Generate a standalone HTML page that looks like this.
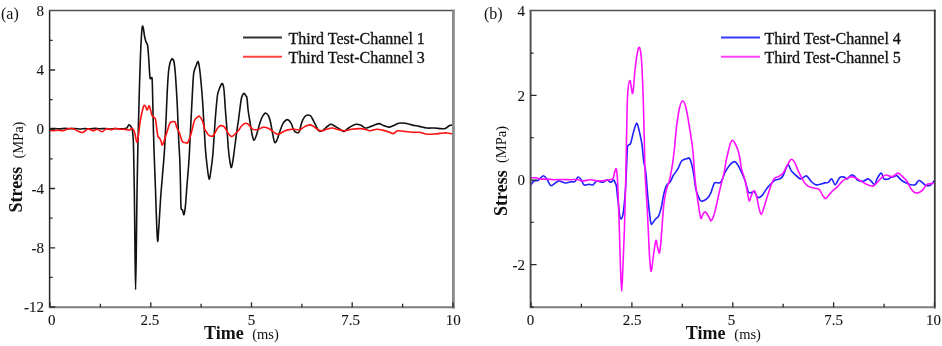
<!DOCTYPE html>
<html><head><meta charset="utf-8"><style>
html,body{margin:0;padding:0;background:#fff;width:942px;height:346px;overflow:hidden}
svg{display:block;filter:blur(0.35px)}
</style></head><body>
<svg width="942" height="346" viewBox="0 0 942 346"><rect width="942" height="346" fill="#fff"/><clipPath id="cl"><rect x="50.0" y="10.8" width="403.0" height="296.2"/></clipPath><clipPath id="cr"><rect x="531.0" y="10.8" width="403.5" height="296.2"/></clipPath><g clip-path="url(#cl)" fill="none" stroke-width="1.6" stroke-linejoin="round" stroke-linecap="round"><path d="M50.0,128.7 C50.8,128.7 53.3,128.5 55.0,128.5 C56.7,128.5 58.3,128.9 60.0,128.9 C61.7,128.9 63.3,128.4 65.0,128.4 C66.7,128.4 68.3,128.8 70.0,128.8 C71.7,128.8 73.3,128.5 75.0,128.5 C76.7,128.5 78.3,129.0 80.0,129.0 C81.7,129.0 83.3,128.6 85.0,128.6 C86.7,128.6 88.3,128.9 90.0,128.9 C91.7,128.9 93.3,128.4 95.0,128.4 C96.7,128.4 98.3,128.8 100.0,128.8 C101.7,128.8 103.3,128.5 105.0,128.5 C106.7,128.5 108.3,129.0 110.0,129.0 C111.7,129.0 113.3,128.6 115.0,128.6 C116.7,128.6 118.3,128.8 120.0,128.8 C121.7,128.8 123.8,128.8 125.0,128.6 C126.2,128.4 126.3,128.4 127.0,127.8 C127.7,127.2 128.4,124.9 129.0,124.7 C129.6,124.5 130.2,125.5 130.8,126.5 C131.4,127.5 132.0,127.4 132.4,130.5 C132.8,133.6 133.2,135.1 133.5,145.0 C133.8,154.9 134.1,172.5 134.3,190.0 C134.6,207.5 134.8,233.4 135.0,250.0 C135.2,266.6 135.4,289.6 135.6,289.6 C135.8,289.6 136.1,264.9 136.3,250.0 C136.5,235.1 136.7,216.7 136.9,200.0 C137.2,183.3 137.5,164.2 137.8,150.0 C138.1,135.8 138.4,125.8 138.7,115.0 C139.0,104.2 139.2,95.0 139.5,85.0 C139.8,75.0 140.2,63.3 140.5,55.0 C140.8,46.7 141.2,39.8 141.5,35.0 C141.8,30.2 142.1,27.3 142.4,26.3 C142.7,25.3 143.2,27.4 143.5,29.0 C143.8,30.6 144.1,33.8 144.5,36.0 C144.9,38.2 145.5,40.5 146.0,42.0 C146.5,43.5 147.1,42.8 147.5,45.0 C147.9,47.2 148.1,49.7 148.5,55.0 C148.9,60.3 149.5,73.0 149.9,76.8 C150.3,80.6 150.6,77.7 151.0,78.0 C151.4,78.3 151.8,76.5 152.1,78.5 C152.3,80.5 152.3,83.1 152.5,90.0 C152.7,96.9 152.9,110.0 153.2,120.0 C153.4,130.0 153.6,138.3 154.0,150.0 C154.4,161.7 155.1,177.5 155.5,190.0 C155.9,202.5 156.3,216.4 156.7,225.0 C157.1,233.6 157.3,240.8 157.7,241.3 C158.0,241.8 158.3,234.9 158.8,228.0 C159.3,221.1 159.9,208.8 160.5,200.0 C161.1,191.2 161.8,183.3 162.5,175.0 C163.2,166.7 163.9,159.2 164.5,150.0 C165.1,140.8 165.5,130.0 166.0,120.0 C166.5,110.0 166.9,98.0 167.3,90.0 C167.7,82.0 168.1,76.5 168.5,72.0 C168.9,67.5 169.5,65.1 170.0,63.0 C170.5,60.9 171.1,60.2 171.5,59.5 C171.9,58.8 172.3,58.6 172.7,59.0 C173.1,59.4 173.6,59.8 174.0,62.0 C174.4,64.2 174.8,67.7 175.2,72.0 C175.6,76.3 175.9,81.7 176.3,88.0 C176.7,94.3 177.1,101.3 177.5,110.0 C177.9,118.7 178.3,131.7 178.7,140.0 C179.1,148.3 179.5,152.5 179.8,160.0 C180.1,167.5 180.3,177.2 180.5,185.0 C180.7,192.8 180.7,202.8 181.0,207.0 C181.3,211.2 182.0,208.7 182.5,210.0 C183.0,211.3 183.5,215.4 184.0,214.6 C184.5,213.8 185.0,209.9 185.5,205.0 C186.0,200.1 186.4,192.5 187.0,185.0 C187.6,177.5 188.4,169.2 189.0,160.0 C189.6,150.8 189.9,140.8 190.5,130.0 C191.1,119.2 191.8,104.2 192.3,95.0 C192.8,85.8 193.1,79.2 193.5,75.0 C193.9,70.8 194.1,71.5 194.5,70.0 C194.9,68.5 195.4,67.4 196.0,66.0 C196.6,64.6 197.5,61.2 198.1,61.5 C198.7,61.8 199.0,64.6 199.5,68.0 C200.0,71.4 200.5,76.7 201.0,82.0 C201.5,87.3 202.0,92.8 202.5,100.0 C203.0,107.2 203.5,116.7 204.0,125.0 C204.5,133.3 205.0,143.3 205.5,150.0 C206.0,156.7 206.4,160.2 207.0,165.0 C207.6,169.8 208.4,178.2 209.1,179.0 C209.8,179.8 210.4,174.0 211.0,170.0 C211.6,166.0 212.2,161.7 212.8,155.0 C213.4,148.3 214.0,137.5 214.5,130.0 C215.0,122.5 215.5,115.8 216.0,110.0 C216.5,104.2 217.0,98.3 217.5,95.0 C218.0,91.7 218.4,91.5 218.9,90.0 C219.4,88.5 219.9,87.1 220.5,86.0 C221.1,84.9 221.9,82.9 222.5,83.6 C223.1,84.3 223.5,85.6 224.0,90.0 C224.5,94.4 224.9,103.3 225.4,110.0 C225.9,116.7 226.5,123.3 227.0,130.0 C227.5,136.7 228.0,144.7 228.5,150.0 C229.0,155.3 229.5,159.1 230.0,162.0 C230.5,164.9 230.9,167.8 231.4,167.5 C231.9,167.2 232.4,163.8 233.0,160.0 C233.6,156.2 234.3,150.0 235.0,145.0 C235.7,140.0 236.4,134.2 237.0,130.0 C237.6,125.8 238.0,123.7 238.5,120.0 C239.0,116.3 239.5,111.7 240.0,108.0 C240.5,104.3 240.9,100.4 241.5,98.0 C242.1,95.6 243.1,93.7 243.8,93.4 C244.6,93.1 245.5,95.2 246.0,96.0 C246.5,96.8 246.7,95.7 247.0,98.0 C247.3,100.3 247.6,106.0 248.1,110.0 C248.6,114.0 249.3,118.0 250.0,122.0 C250.7,126.0 251.3,130.9 252.0,134.0 C252.7,137.1 253.2,140.1 254.0,140.3 C254.8,140.5 255.7,137.4 256.5,135.0 C257.3,132.6 258.2,128.8 259.0,126.0 C259.8,123.2 260.7,120.5 261.5,118.5 C262.3,116.5 263.2,115.1 264.0,114.2 C264.8,113.3 265.3,113.0 266.0,113.2 C266.7,113.4 267.6,114.0 268.3,115.5 C269.1,117.0 269.8,119.1 270.5,122.0 C271.2,124.9 271.8,129.6 272.5,133.0 C273.2,136.4 273.9,141.0 274.6,142.2 C275.4,143.4 276.1,141.9 277.0,140.0 C277.9,138.1 279.0,133.8 280.0,131.0 C281.0,128.2 282.1,125.2 283.0,123.5 C283.9,121.8 284.7,121.1 285.5,120.5 C286.3,119.9 287.1,119.3 288.0,119.8 C288.9,120.2 290.2,121.8 291.0,123.2 C291.8,124.6 292.3,126.5 293.0,128.0 C293.7,129.4 294.2,131.2 295.2,131.9 C296.2,132.6 298.1,133.1 299.1,131.9 C300.1,130.8 300.4,127.0 301.0,125.0 C301.6,123.0 302.0,121.5 302.8,119.9 C303.6,118.3 304.7,116.3 306.0,115.6 C307.3,114.9 309.3,115.0 310.4,115.6 C311.5,116.2 311.8,117.7 312.5,119.0 C313.2,120.3 313.9,121.7 314.7,123.2 C315.4,124.7 316.3,126.7 317.0,128.0 C317.7,129.3 318.1,130.3 319.0,130.8 C319.9,131.3 321.2,131.3 322.3,130.8 C323.4,130.3 324.6,128.8 325.5,128.0 C326.4,127.2 327.1,126.6 328.0,126.0 C328.9,125.4 329.6,124.1 331.0,124.3 C332.4,124.5 334.8,126.2 336.4,127.1 C338.0,128.0 339.4,129.0 340.7,129.7 C342.0,130.4 342.6,131.8 344.0,131.4 C345.4,131.0 347.4,128.7 349.4,127.5 C351.4,126.3 353.9,124.6 355.9,124.3 C357.9,124.0 359.8,124.8 361.3,125.4 C362.8,126.0 363.7,127.7 365.0,128.0 C366.3,128.3 367.9,127.5 369.3,127.1 C370.8,126.7 372.1,126.0 373.7,125.4 C375.3,124.8 377.5,123.6 379.1,123.6 C380.7,123.6 381.8,124.8 383.4,125.4 C385.0,126.0 387.3,127.0 388.9,127.1 C390.5,127.2 391.6,126.4 393.2,125.8 C394.8,125.2 396.6,123.6 398.6,123.2 C400.6,122.8 402.9,122.9 405.1,123.2 C407.3,123.5 409.2,124.4 411.6,124.9 C414.0,125.4 416.7,125.9 419.2,126.4 C421.7,126.9 424.3,127.7 426.8,128.0 C429.3,128.3 432.0,127.9 434.4,128.0 C436.8,128.1 439.1,128.5 440.9,128.6 C442.7,128.7 443.8,129.1 445.2,128.6 C446.6,128.1 448.3,126.0 449.6,125.4 C450.9,124.8 452.4,125.0 453.0,124.9" stroke="#111"/><path d="M50.0,130.5 C50.5,130.5 51.7,130.7 53.0,130.7 C54.3,130.7 56.3,130.3 58.0,130.3 C59.7,130.3 61.3,131.0 63.2,130.7 C65.1,130.4 67.6,128.8 69.3,128.5 C71.0,128.2 71.8,128.2 73.3,128.7 C74.8,129.2 76.9,130.7 78.4,131.3 C79.9,131.9 81.2,132.6 82.4,132.5 C83.6,132.4 84.4,131.3 85.4,130.7 C86.4,130.1 87.2,128.9 88.5,128.9 C89.8,128.9 91.7,130.6 93.1,130.7 C94.5,130.8 95.6,129.0 97.1,129.2 C98.6,129.4 100.7,131.9 102.2,131.8 C103.7,131.7 104.8,129.0 106.3,128.7 C107.8,128.3 109.8,129.7 111.3,129.7 C112.8,129.7 113.9,128.6 115.4,128.5 C116.9,128.4 118.7,129.0 120.4,129.2 C122.1,129.3 124.0,129.2 125.5,129.4 C127.0,129.6 128.5,130.4 129.5,130.2 C130.5,130.0 130.9,128.2 131.6,128.2 C132.3,128.2 133.0,129.0 133.6,130.0 C134.2,131.0 134.4,132.2 135.0,134.3 C135.6,136.4 136.3,142.4 136.9,142.5 C137.5,142.6 138.0,138.2 138.5,135.0 C139.0,131.8 139.4,126.6 139.9,123.1 C140.4,119.6 141.0,116.8 141.6,114.0 C142.2,111.2 143.0,108.0 143.5,106.5 C144.0,105.0 144.2,105.3 144.5,105.3 C144.8,105.3 145.2,105.7 145.6,106.5 C146.0,107.3 146.6,110.4 147.2,110.3 C147.8,110.2 148.4,106.0 148.9,105.8 C149.4,105.6 149.8,107.4 150.3,109.0 C150.8,110.6 151.4,114.1 152.0,115.5 C152.6,116.9 153.2,116.6 153.8,117.2 C154.4,117.8 154.9,117.2 155.4,119.0 C155.9,120.8 156.3,125.2 156.7,128.0 C157.1,130.8 157.4,134.3 157.8,136.0 C158.2,137.7 158.9,137.2 159.4,138.0 C159.9,138.8 160.5,139.8 161.0,141.0 C161.5,142.2 161.7,146.0 162.5,145.0 C163.3,144.0 164.8,138.5 166.0,135.0 C167.2,131.5 168.6,126.2 169.5,124.0 C170.4,121.8 170.6,122.3 171.5,122.0 C172.4,121.7 174.0,120.9 174.9,121.9 C175.8,122.9 176.2,126.1 177.0,128.0 C177.8,129.9 178.6,130.9 179.5,133.2 C180.4,135.4 181.4,139.9 182.3,141.5 C183.2,143.1 184.3,142.3 185.2,142.6 C186.0,142.8 186.7,143.5 187.4,143.0 C188.1,142.5 188.6,141.0 189.2,139.5 C189.8,138.0 190.1,137.1 191.0,134.0 C191.9,130.9 193.4,123.5 194.4,120.8 C195.4,118.0 196.2,118.2 197.0,117.5 C197.8,116.8 198.6,115.7 199.5,116.3 C200.4,116.9 201.6,118.8 202.5,121.0 C203.4,123.2 204.2,127.7 204.8,129.5 C205.4,131.3 205.8,130.8 206.3,131.6 C206.8,132.4 207.3,133.8 208.0,134.5 C208.7,135.2 209.3,135.8 210.2,136.0 C211.1,136.2 212.3,136.7 213.4,135.6 C214.5,134.5 215.8,131.0 216.7,129.5 C217.6,128.0 218.3,127.2 219.0,126.5 C219.7,125.8 220.1,125.5 221.0,125.6 C221.9,125.7 223.0,125.5 224.3,126.9 C225.6,128.3 227.3,132.3 228.6,133.9 C229.9,135.5 230.8,136.5 231.9,136.5 C233.0,136.5 233.9,135.0 235.0,134.0 C236.1,133.0 237.3,131.9 238.4,130.6 C239.5,129.3 240.4,127.2 241.5,126.0 C242.6,124.8 243.8,123.7 244.9,123.4 C246.0,123.1 246.8,123.1 248.1,124.1 C249.4,125.0 250.9,128.2 252.5,129.1 C254.1,130.0 256.1,129.8 257.9,129.5 C259.7,129.2 261.5,127.5 263.3,127.3 C265.1,127.1 267.1,127.7 268.7,128.4 C270.3,129.1 271.7,130.7 273.1,131.7 C274.6,132.7 276.0,134.2 277.4,134.3 C278.8,134.5 280.4,133.2 281.7,132.6 C283.0,132.0 283.8,131.3 285.0,130.8 C286.2,130.3 287.7,129.8 289.0,129.6 C290.3,129.3 291.2,129.3 293.0,129.3 C294.8,129.3 297.7,130.1 299.5,129.7 C301.3,129.3 302.6,127.8 303.9,127.1 C305.1,126.4 305.9,125.9 307.0,125.5 C308.1,125.1 309.3,124.8 310.4,124.9 C311.5,125.1 312.3,125.6 313.6,126.4 C314.9,127.2 316.6,129.0 318.0,129.7 C319.4,130.4 320.9,130.9 322.3,130.8 C323.7,130.7 325.0,129.8 326.6,129.3 C328.2,128.8 330.0,127.9 332.0,128.0 C334.0,128.1 336.4,129.2 338.6,129.7 C340.8,130.2 342.8,130.9 345.0,130.8 C347.2,130.7 349.1,129.7 351.6,129.3 C354.1,128.9 357.7,128.5 360.2,128.6 C362.7,128.7 365.1,129.4 366.8,129.8 C368.5,130.2 368.7,130.9 370.4,130.8 C372.1,130.7 374.9,129.4 376.9,129.3 C378.9,129.2 380.4,129.7 382.4,130.1 C384.4,130.5 387.1,131.3 388.9,131.9 C390.7,132.5 391.8,133.8 393.2,133.6 C394.6,133.4 395.7,131.2 397.5,130.8 C399.3,130.4 401.5,131.2 404.0,131.4 C406.5,131.7 410.2,132.2 412.7,132.3 C415.2,132.5 417.0,132.0 419.2,132.3 C421.4,132.6 423.2,133.7 425.7,134.0 C428.2,134.3 431.5,134.2 434.4,134.0 C437.3,133.8 440.9,133.2 443.1,133.0 C445.3,132.8 445.8,132.8 447.4,133.0 C449.0,133.2 452.1,133.8 453.0,134.0" stroke="#ff1010"/></g><g clip-path="url(#cr)" fill="none" stroke-width="1.6" stroke-linejoin="round" stroke-linecap="round"><path d="M531.0,184.9 C531.5,184.2 532.8,181.8 533.9,181.0 C535.0,180.2 536.7,180.9 537.8,180.4 C538.9,179.9 539.4,179.0 540.4,178.2 C541.4,177.4 542.5,175.7 543.6,175.8 C544.7,176.0 545.7,177.5 546.9,179.1 C548.1,180.7 549.4,184.9 550.8,185.6 C552.2,186.2 553.9,183.8 555.3,183.0 C556.7,182.2 557.5,181.0 559.2,181.0 C560.9,181.0 563.8,182.9 565.7,183.0 C567.7,183.1 569.4,181.9 570.9,181.7 C572.4,181.5 573.6,182.5 574.8,181.7 C576.0,180.9 577.0,177.4 578.1,177.1 C579.2,176.8 580.3,178.4 581.3,179.7 C582.3,181.0 582.6,184.1 583.9,184.9 C585.2,185.7 587.6,184.3 589.1,184.3 C590.6,184.3 591.7,185.5 593.0,184.9 C594.3,184.3 595.4,181.4 596.9,181.0 C598.4,180.6 600.8,182.3 602.1,182.3 C603.5,182.3 604.1,181.5 605.0,181.1 C605.9,180.7 606.4,179.5 607.3,179.7 C608.2,179.9 609.5,182.2 610.6,182.3 C611.7,182.4 613.1,180.1 613.8,180.1 C614.5,180.1 614.6,181.4 615.0,182.4 C615.4,183.4 616.0,184.1 616.4,186.2 C616.8,188.2 616.9,191.6 617.3,194.7 C617.6,197.8 618.0,201.1 618.5,205.0 C619.0,208.9 619.5,216.2 620.2,218.0 C620.9,219.8 622.0,218.7 622.7,215.6 C623.5,212.5 624.2,205.1 624.7,199.6 C625.2,194.1 625.6,188.2 625.9,182.4 C626.2,176.6 626.4,170.7 626.6,165.0 C626.9,159.3 627.1,151.3 627.4,148.0 C627.7,144.7 628.0,145.9 628.5,145.1 C629.0,144.3 629.9,145.2 630.6,143.4 C631.4,141.6 632.2,136.9 633.0,134.0 C633.8,131.1 634.6,127.8 635.3,126.0 C636.0,124.2 636.4,122.8 637.0,123.5 C637.6,124.2 638.2,126.5 639.0,130.0 C639.8,133.4 641.1,138.9 641.9,144.2 C642.7,149.5 643.2,157.7 643.8,162.0 C644.4,166.3 645.1,167.2 645.5,170.0 C645.9,172.8 646.0,174.0 646.4,178.9 C646.8,183.8 647.4,192.5 648.1,199.7 C648.8,206.9 650.0,218.3 650.7,222.2 C651.4,226.1 651.8,223.5 652.5,223.1 C653.2,222.7 654.1,220.8 655.1,219.6 C656.1,218.4 657.5,218.1 658.5,216.2 C659.5,214.3 660.2,212.0 661.1,208.4 C662.0,204.8 662.8,198.3 663.7,194.5 C664.6,190.7 665.2,187.9 666.3,185.8 C667.4,183.7 669.0,183.5 670.2,181.8 C671.4,180.1 672.3,177.1 673.3,175.4 C674.2,173.8 675.0,173.2 675.9,171.9 C676.8,170.6 677.6,169.3 678.5,167.6 C679.4,165.9 680.2,163.0 681.2,161.6 C682.2,160.2 683.7,159.8 684.7,159.3 C685.7,158.8 686.2,158.9 687.0,158.7 C687.8,158.5 688.5,157.2 689.3,158.1 C690.1,159.0 690.8,161.0 691.6,163.9 C692.4,166.8 693.2,171.6 693.9,175.5 C694.5,179.4 694.9,184.4 695.5,187.5 C696.1,190.6 696.5,191.8 697.4,194.0 C698.3,196.2 699.5,200.0 700.9,200.9 C702.2,201.8 704.1,200.5 705.5,199.7 C706.9,198.9 708.0,197.7 709.0,196.3 C710.0,195.0 710.3,193.8 711.3,191.6 C712.2,189.4 713.2,184.4 714.7,182.9 C716.2,181.4 718.8,184.2 720.5,182.4 C722.2,180.6 723.7,174.9 725.2,172.0 C726.8,169.1 728.3,166.7 729.8,165.0 C731.3,163.3 733.0,161.6 734.4,161.6 C735.8,161.6 736.7,163.3 737.9,165.0 C739.1,166.7 740.2,169.5 741.4,172.0 C742.5,174.5 743.6,176.8 744.8,180.1 C745.9,183.4 747.3,189.5 748.3,191.6 C749.3,193.7 749.6,192.8 750.6,192.8 C751.6,192.8 753.1,190.9 754.3,191.7 C755.5,192.5 756.4,196.9 757.7,197.5 C759.1,198.1 760.9,196.7 762.4,195.1 C763.9,193.5 765.6,190.0 767.0,188.2 C768.4,186.4 769.1,185.7 770.5,184.3 C771.9,183.0 773.6,181.0 775.1,180.1 C776.6,179.2 778.4,179.7 779.7,178.9 C781.1,178.1 781.9,177.8 783.2,175.5 C784.6,173.2 786.4,165.8 787.8,165.0 C789.1,164.2 790.1,169.2 791.3,170.8 C792.5,172.4 793.2,173.0 794.8,174.3 C796.3,175.7 798.7,178.6 800.6,178.9 C802.5,179.2 804.6,175.5 806.3,175.9 C808.0,176.3 809.5,179.8 811.0,181.3 C812.5,182.8 814.1,184.2 815.6,184.7 C817.1,185.2 818.7,184.6 820.2,184.3 C821.8,184.0 823.5,183.2 824.9,182.9 C826.2,182.6 827.1,183.1 828.3,182.4 C829.4,181.7 830.6,178.5 831.8,178.9 C833.0,179.3 833.9,185.0 835.3,184.7 C836.6,184.4 838.3,178.5 839.9,177.3 C841.5,176.1 843.4,177.0 844.6,177.3 C845.8,177.6 845.7,179.3 846.9,178.9 C848.1,178.5 850.2,175.4 851.6,175.0 C853.0,174.6 854.0,175.8 855.0,176.6 C856.0,177.4 856.0,179.3 857.4,180.1 C858.8,180.9 861.4,181.5 863.1,181.3 C864.8,181.1 866.4,178.9 867.8,178.9 C869.2,178.9 870.1,180.3 871.3,181.3 C872.4,182.3 873.8,185.1 874.7,184.7 C875.7,184.3 875.9,180.8 877.0,178.9 C878.1,177.0 880.0,173.1 881.2,173.1 C882.4,173.1 882.8,177.9 884.0,178.9 C885.2,179.9 887.5,179.2 888.6,178.9 C889.8,178.6 889.9,177.7 890.9,177.3 C891.9,176.9 893.4,176.9 894.4,176.6 C895.4,176.3 895.6,174.9 896.7,175.5 C897.9,176.1 899.8,178.9 901.3,180.1 C902.8,181.3 904.5,182.1 906.0,182.9 C907.5,183.7 909.1,184.4 910.6,184.7 C912.1,185.0 913.9,185.4 915.2,184.7 C916.6,184.0 917.5,181.0 918.7,180.6 C919.9,180.2 921.1,181.6 922.2,182.4 C923.4,183.2 924.2,184.7 925.6,185.2 C927.0,185.7 928.8,186.0 930.3,185.2 C931.8,184.4 933.8,181.4 934.5,180.6" stroke="#2020ff"/><path d="M531.0,177.8 C531.8,177.8 534.1,177.6 535.8,177.8 C537.5,178.0 539.0,178.9 541.0,179.1 C543.0,179.3 545.3,179.0 547.5,179.1 C549.7,179.2 551.6,179.6 554.0,179.7 C556.4,179.8 559.0,179.5 561.8,179.5 C564.6,179.5 568.3,179.7 570.9,179.7 C573.5,179.7 575.4,179.3 577.4,179.5 C579.4,179.7 580.4,181.0 582.6,181.0 C584.8,181.0 587.8,179.7 590.4,179.7 C593.0,179.7 595.6,180.9 598.2,181.0 C600.8,181.1 604.0,180.7 606.0,180.4 C608.0,180.2 608.8,179.8 610.0,179.5 C611.2,179.2 612.1,180.1 613.0,178.6 C613.9,177.1 614.5,172.1 615.1,170.6 C615.7,169.1 616.0,167.7 616.4,169.3 C616.8,170.9 617.1,174.1 617.5,180.0 C617.9,185.9 618.2,196.2 618.5,204.5 C618.8,212.8 619.1,219.9 619.4,230.0 C619.7,240.1 620.0,254.8 620.4,265.0 C620.8,275.2 621.3,291.3 621.7,291.3 C622.1,291.3 622.5,275.2 623.0,265.0 C623.5,254.8 624.0,242.5 624.4,230.0 C624.8,217.5 625.1,205.0 625.5,190.0 C625.9,175.0 626.1,155.8 626.5,140.0 C626.9,124.2 627.0,104.9 627.6,95.0 C628.2,85.1 629.0,80.8 629.9,80.5 C630.8,80.2 631.9,95.2 632.7,93.4 C633.6,91.7 634.2,76.9 635.0,70.0 C635.8,63.1 636.7,55.7 637.5,52.0 C638.3,48.3 638.9,46.4 639.6,47.7 C640.3,49.0 640.9,52.1 641.5,60.0 C642.1,67.9 642.6,81.7 643.1,95.0 C643.6,108.3 643.9,126.7 644.3,140.0 C644.6,153.3 644.7,163.3 645.2,175.0 C645.7,186.7 646.8,200.0 647.3,210.0 C647.8,220.0 648.1,226.7 648.5,235.0 C648.9,243.3 649.3,254.0 649.8,260.0 C650.3,266.0 650.7,272.0 651.3,271.2 C651.9,270.4 652.7,260.1 653.5,255.0 C654.3,249.9 655.2,241.7 655.9,240.4 C656.6,239.1 656.9,244.9 657.5,247.0 C658.1,249.1 658.9,253.6 659.4,253.1 C659.9,252.6 660.3,247.8 660.7,244.0 C661.1,240.2 661.4,234.8 661.8,230.0 C662.2,225.2 662.5,219.5 662.9,215.0 C663.3,210.5 663.4,207.2 664.0,203.0 C664.6,198.8 665.3,194.1 666.3,190.1 C667.3,186.1 668.8,183.1 669.8,178.9 C670.8,174.7 671.6,169.8 672.4,165.0 C673.1,160.2 673.6,156.4 674.3,150.0 C675.0,143.6 675.7,133.3 676.6,126.3 C677.5,119.3 678.5,112.2 679.5,108.0 C680.5,103.8 681.7,100.8 682.8,100.8 C683.9,100.8 684.9,103.8 686.0,108.0 C687.1,112.2 688.2,119.3 689.3,126.3 C690.4,133.3 691.8,141.0 692.8,150.0 C693.8,159.0 694.1,170.8 695.1,180.1 C696.1,189.3 697.5,199.1 698.5,205.5 C699.5,211.9 700.1,216.9 700.9,218.3 C701.6,219.7 702.2,215.1 703.0,214.0 C703.8,212.9 704.5,211.5 705.5,212.0 C706.5,212.5 708.0,215.7 709.0,217.1 C710.0,218.5 710.3,221.4 711.3,220.6 C712.2,219.8 713.4,217.3 714.7,212.5 C716.1,207.7 717.9,198.2 719.4,191.6 C720.9,185.0 722.9,178.4 724.0,173.1 C725.1,167.8 725.5,163.8 726.3,160.0 C727.1,156.2 727.9,152.8 728.6,150.0 C729.3,147.2 729.8,144.6 730.5,143.0 C731.2,141.4 731.9,140.1 732.6,140.2 C733.4,140.3 734.1,141.9 735.0,143.5 C735.9,145.1 737.0,147.2 737.9,150.0 C738.8,152.8 739.6,156.9 740.2,160.0 C740.8,163.1 740.6,165.2 741.4,168.5 C742.2,171.8 744.0,176.1 745.0,180.0 C746.0,183.9 746.6,188.2 747.3,191.7 C748.0,195.2 748.5,200.3 749.2,200.9 C749.9,201.5 750.6,196.8 751.5,195.1 C752.4,193.4 753.4,190.3 754.3,190.5 C755.1,190.7 755.8,193.4 756.6,196.3 C757.4,199.2 758.1,204.9 758.9,207.9 C759.7,210.9 760.4,214.2 761.2,214.4 C762.0,214.6 762.5,211.8 763.5,209.0 C764.5,206.2 765.8,201.2 767.0,197.5 C768.2,193.8 769.4,190.1 770.5,187.0 C771.6,183.9 772.5,180.6 773.9,178.9 C775.2,177.2 777.0,177.6 778.6,176.6 C780.2,175.6 781.9,174.8 783.2,173.1 C784.6,171.4 785.4,168.5 786.7,166.2 C788.1,163.9 789.9,159.9 791.3,159.3 C792.6,158.7 793.6,160.8 794.8,162.7 C795.9,164.6 796.9,167.9 798.2,170.8 C799.6,173.7 801.4,177.6 802.9,180.1 C804.4,182.6 805.6,184.6 807.5,185.9 C809.4,187.2 812.5,187.6 814.4,188.2 C816.3,188.8 817.8,188.2 819.1,189.4 C820.5,190.6 821.4,193.6 822.5,195.1 C823.6,196.6 824.6,198.5 825.6,198.6 C826.6,198.7 827.1,197.2 828.3,195.8 C829.5,194.5 831.5,192.0 833.0,190.5 C834.5,189.0 836.1,188.1 837.6,186.6 C839.1,185.1 840.8,182.6 842.2,181.3 C843.6,180.0 844.2,179.7 845.8,178.9 C847.4,178.1 849.7,176.6 851.6,176.6 C853.5,176.6 855.5,177.9 857.4,178.9 C859.3,179.9 861.2,181.4 863.1,182.4 C865.0,183.4 867.1,184.6 868.9,185.2 C870.6,185.8 872.0,186.6 873.6,185.9 C875.2,185.2 876.7,182.9 878.2,181.3 C879.7,179.8 881.4,177.7 882.8,176.6 C884.1,175.5 884.8,175.0 886.3,175.0 C887.8,175.0 890.2,176.9 892.1,176.6 C894.0,176.3 896.2,173.1 897.9,173.1 C899.6,173.1 901.0,175.2 902.5,176.6 C904.0,178.0 905.8,179.4 907.1,181.3 C908.5,183.2 909.2,186.3 910.6,188.2 C912.0,190.1 913.7,192.2 915.2,192.8 C916.8,193.5 918.5,192.7 919.9,192.1 C921.2,191.5 922.1,190.7 923.3,189.4 C924.4,188.1 925.4,185.3 926.8,184.3 C928.1,183.3 930.1,183.9 931.4,183.6 C932.7,183.3 934.0,182.6 934.5,182.4" stroke="#ff10ff"/></g><g fill="none"><path d="M49.6,10.100000000000001V308.0" stroke="#262626" stroke-width="1.5"/><path d="M49,10.45H454.6" stroke="#505050" stroke-width="1.5"/><path d="M453.4,9.8V308.4" stroke="#8a8a8a" stroke-width="2.8"/><path d="M48.9,307.3H454.8" stroke="#7d7d7d" stroke-width="2.0"/><path d="M530.6,10.100000000000001V308.0" stroke="#4a4a4a" stroke-width="1.9"/><path d="M529.7,10.45H935.8" stroke="#505050" stroke-width="1.5"/><path d="M934.8,9.8V308.4" stroke="#3a3a3a" stroke-width="1.8"/><path d="M529.7,307.3H935.8" stroke="#7d7d7d" stroke-width="2.0"/></g><g fill="none" stroke="#2a2a2a"><path d="M50.0,307.3v-5 M531.0,307.3v-5 M100.4,307.3v-3.6 M581.4,307.3v-3.6 M150.8,307.3v-5 M631.9,307.3v-5 M201.1,307.3v-3.6 M682.3,307.3v-3.6 M251.5,307.3v-5 M732.8,307.3v-5 M301.9,307.3v-3.6 M783.2,307.3v-3.6 M352.2,307.3v-5 M833.6,307.3v-5 M402.6,307.3v-3.6 M884.1,307.3v-3.6 M453.0,307.3v-5 M934.5,307.3v-5 M49.6,40.4h3 M49.6,70.0h5.5 M49.6,99.7h3 M49.6,129.3h5.5 M49.6,158.9h3 M49.6,188.5h5.5 M49.6,218.1h3 M49.6,247.8h5.5 M49.6,277.4h3 M49.6,307.0h5.5 M530.6,53.1h3 M530.6,95.4h6 M530.6,137.7h3 M530.6,180.1h6 M530.6,222.4h3 M530.6,264.7h6 M530.6,307.0h3" stroke-width="1.3"/></g><g font-family="Liberation Serif" font-size="15" fill="#111" stroke="#111" stroke-width="0.1"><text x="44" y="15.9" text-anchor="end">8</text><text x="44" y="75.1" text-anchor="end">4</text><text x="44" y="134.4" text-anchor="end">0</text><text x="44" y="193.6" text-anchor="end">-4</text><text x="44" y="252.9" text-anchor="end">-8</text><text x="44" y="312.1" text-anchor="end">-12</text><text x="525" y="15.9" text-anchor="end">4</text><text x="525" y="100.5" text-anchor="end">2</text><text x="525" y="185.2" text-anchor="end">0</text><text x="525" y="269.8" text-anchor="end">-2</text><text x="51.8" y="325.3" text-anchor="middle">0</text><text x="149.8" y="325.3" text-anchor="middle">2.5</text><text x="251.5" y="325.3" text-anchor="middle">5</text><text x="350.6" y="325.3" text-anchor="middle">7.5</text><text x="453.2" y="325.3" text-anchor="middle">10</text><text x="530.5" y="325.3" text-anchor="middle">0</text><text x="632" y="325.3" text-anchor="middle">2.5</text><text x="731.5" y="325.3" text-anchor="middle">5</text><text x="833.5" y="325.3" text-anchor="middle">7.5</text><text x="933.5" y="325.3" text-anchor="middle">10</text></g><g font-family="Liberation Serif" font-size="16" fill="#111" stroke="#111" stroke-width="0.3"><text x="288.5" y="44.2">Third Test-Channel 1</text><text x="288.5" y="63.2">Third Test-Channel 3</text><text x="764.5" y="44.2">Third Test-Channel 4</text><text x="764.5" y="63.2">Third Test-Channel 5</text></g><g stroke-width="2"><path d="M243,37.4H282" stroke="#333"/><path d="M243,56.8H282" stroke="#ff4545"/><path d="M721,37.4H760" stroke="#3838ff"/><path d="M721,56.7H760" stroke="#ff40ff"/></g><g font-family="Liberation Serif" fill="#111"><text x="204" y="338.8" font-size="18" font-weight="bold">Time</text><text x="252.2" y="338.8" font-size="14.5">(ms)</text><text x="685.8" y="338.8" font-size="18" font-weight="bold">Time</text><text x="734.3" y="338.8" font-size="14.5">(ms)</text><text transform="translate(22.4,212.5) rotate(-90)" font-size="18" font-weight="bold">Stress</text><text transform="translate(22.8,158.6) rotate(-90)" font-size="14.5">(MPa)</text><text transform="translate(507.0,216.0) rotate(-90)" font-size="18" font-weight="bold">Stress</text><text transform="translate(506.3,163.0) rotate(-90)" font-size="14.5">(MPa)</text><text x="1" y="19" font-size="16">(a)</text><text x="484" y="19" font-size="16">(b)</text></g></svg>
</body></html>
